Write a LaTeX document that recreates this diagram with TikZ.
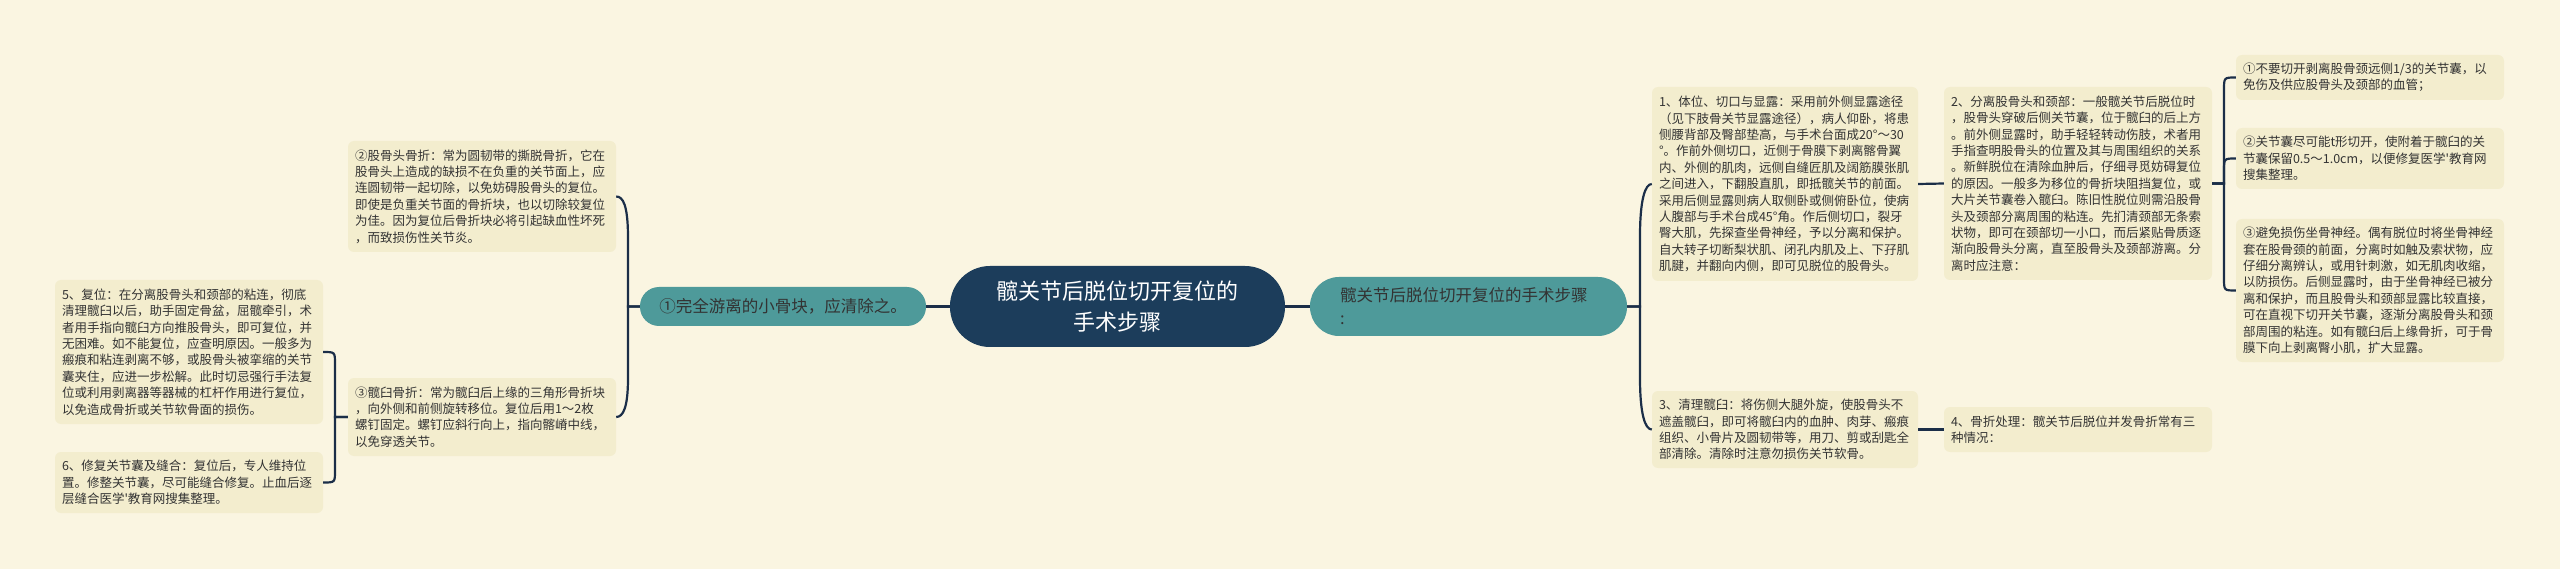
\documentclass[tikz,border=0pt]{standalone}
\usepackage{fontspec}
\newfontfamily\cjk{Noto Sans CJK SC}
\definecolor{bgc}{HTML}{FAF5E1}
\definecolor{boxc}{HTML}{F3EDCE}
\definecolor{navy}{HTML}{1C3D5B}
\definecolor{tealc}{HTML}{4E9A9A}
\definecolor{linec}{HTML}{1B2E48}
\definecolor{txt}{HTML}{333333}
\tikzset{
  leaf/.style={fill=boxc, rounded corners=6pt, inner xsep=7pt, inner ysep=0pt,
    text width=254pt, align=left, text=txt,
    font=\cjk\fontsize{12.5}{16.4}\selectfont},
  conn/.style={draw=linec, line width=2.2pt},
  rootnode/.style={fill=navy, rounded corners=40pt, minimum width=335pt, minimum height=81pt,
    inner sep=0pt, align=center, text=white, font=\cjk\fontsize{22}{31}\selectfont},
  subnode/.style={fill=tealc, inner sep=0pt, text=txt},
}
\begin{document}
\begin{tikzpicture}[x=1pt,y=-1pt]
\fill[bgc] (0,0) rectangle (2560,569);
\useasboundingbox (0,0) rectangle (2560,569);

% main nodes
\node[rootnode] (root) at (1117.5,306.5) {髋关节后脱位切开复位的\\手术步骤};
\node[subnode, rounded corners=19pt, minimum width=286pt, minimum height=39pt,
  font=\cjk\fontsize{16.5}{20}\selectfont] (n1) at (783,306.5) {①完全游离的小骨块，应清除之。};
\node[subnode, rounded corners=29pt, minimum width=317pt, minimum height=59pt,
  text width=257pt, align=left, font=\cjk\fontsize{16.5}{23}\selectfont] (rn) at (1468.5,306.5) {髋关节后脱位切开复位的手术步骤\\:};

% left side leaves
\node[leaf, minimum height=111pt] (b2) at (482,196.5) {②股骨头骨折：常为圆韧带的撕脱骨折，它在\\股骨头上造成的缺损不在负重的关节面上，应\\连圆韧带一起切除，以免妨碍股骨头的复位。\\即使是负重关节面的骨折块，也以切除较复位\\为佳。因为复位后骨折块必将引起缺血性坏死\\，而致损伤性关节炎。};
\node[leaf, minimum height=78pt] (b3) at (482,417) {③髋臼骨折：常为髋臼后上缘的三角形骨折块\\，向外侧和前侧旋转移位。复位后用1～2枚\\螺钉固定。螺钉应斜行向上，指向髂嵴中线，\\以免穿透关节。};
\node[leaf, minimum height=144pt] (b5) at (189,352) {5、复位：在分离股骨头和颈部的粘连，彻底\\清理髋臼以后，助手固定骨盆，屈髋牵引，术\\者用手指向髋臼方向推股骨头，即可复位，并\\无困难。如不能复位，应查明原因。一般多为\\瘢痕和粘连剥离不够，或股骨头被挛缩的关节\\囊夹住，应进一步松解。此时切忌强行手法复\\位或利用剥离器等器械的杠杆作用进行复位，\\以免造成骨折或关节软骨面的损伤。};
\node[leaf, minimum height=61pt] (b6) at (189,482.5) {6、修复关节囊及缝合：复位后，专人维持位\\置。修整关节囊，尽可能缝合修复。止血后逐\\层缝合医学'教育网搜集整理。};

% right side leaves
\node[leaf, text width=252pt, minimum height=194pt] (r1) at (1785,184) {1、体位、切口与显露：采用前外侧显露途径\\（见下肢骨关节显露途径），病人仰卧，将患\\侧腰背部及臀部垫高，与手术台面成20°～30\\°。作前外侧切口，近侧于骨膜下剥离髂骨翼\\内、外侧的肌肉，远侧自缝匠肌及阔筋膜张肌\\之间进入，下翻股直肌，即抵髋关节的前面。\\采用后侧显露则病人取侧卧或侧俯卧位，使病\\人腹部与手术台成45°角。作后侧切口，裂牙\\臀大肌，先探查坐骨神经，予以分离和保护。\\自大转子切断梨状肌、闭孔内肌及上、下孖肌\\肌腱，并翻向内侧，即可见脱位的股骨头。};
\node[leaf, minimum height=193pt] (r2) at (2078,183.5) {2、分离股骨头和颈部：一般髋关节后脱位时\\，股骨头穿破后侧关节囊，位于髋臼的后上方\\。前外侧显露时，助手轻轻转动伤肢，术者用\\手指查明股骨头的位置及其与周围组织的关系\\。新鲜脱位在清除血肿后，仔细寻觅妨碍复位\\的原因。一般多为移位的骨折块阻挡复位，或\\大片关节囊卷入髋臼。陈旧性脱位则需沿股骨\\头及颈部分离周围的粘连。先扪清颈部无条索\\状物，即可在颈部切一小口，而后紧贴骨质逐\\渐向股骨头分离，直至股骨头及颈部游离。分\\离时应注意：};
\node[leaf, text width=252pt, minimum height=77pt] (r3) at (1785,429.5) {3、清理髋臼：将伤侧大腿外旋，使股骨头不\\遮盖髋臼，即可将髋臼内的血肿、肉芽、瘢痕\\组织、小骨片及圆韧带等，用刀、剪或刮匙全\\部清除。清除时注意勿损伤关节软骨。};
\node[leaf, minimum height=45pt] (r4) at (2078,429.5) {4、骨折处理：髋关节后脱位并发骨折常有三\\种情况：};
\node[leaf, minimum height=45pt] (ra) at (2370,77.5) {①不要切开剥离股骨颈远侧1/3的关节囊，以\\免伤及供应股骨头及颈部的血管；};
\node[leaf, minimum height=61pt] (rb) at (2370,158.5) {②关节囊尽可能t形切开，使附着于髋臼的关\\节囊保留0.5～1.0cm，以便修复医学'教育网\\搜集整理。};
\node[leaf, minimum height=143pt] (rc) at (2370,290.5) {③避免损伤坐骨神经。偶有脱位时将坐骨神经\\套在股骨颈的前面，分离时如触及索状物，应\\仔细分离辨认，或用针刺激，如无肌肉收缩，\\以防损伤。后侧显露时，由于坐骨神经已被分\\离和保护，而且股骨头和颈部显露比较直接，\\可在直视下切开关节囊，逐渐分离股骨头和颈\\部周围的粘连。如有髋臼后上缘骨折，可于骨\\膜下向上剥离臀小肌，扩大显露。};

% connectors
\draw[conn] (root.west) -- (n1.east);
\draw[conn] (root.east) -- (rn.west);
\draw[conn] (n1.west) -- (628,306.5) -- (628,238) .. controls (628,205) and (623,196.5) .. (b2.east);
\draw[conn] (n1.west) -- (628,306.5) -- (628,378) .. controls (628,408) and (623,417) .. (b3.east);
\draw[conn] (b3.west) -- (335,417) -- (335,364) .. controls (335,352) .. (b5.east);
\draw[conn] (b3.west) -- (335,417) -- (335,470.5) .. controls (335,482.5) .. (b6.east);
\draw[conn] (rn.east) -- (1640,306.5) -- (1640,236) .. controls (1640,200) and (1645,184) .. (r1.west);
\draw[conn] (rn.east) -- (1640,306.5) -- (1640,378) .. controls (1640,414) and (1645,429.5) .. (r3.west);
\draw[conn] (r1.east) -- (r2.west);
\draw[conn] (r3.east) -- (r4.west);
\draw[conn] (r2.east) -- (2224,183.5) -- (2224,89.5) .. controls (2224,77.5) .. (ra.west);
\draw[conn] (r2.east) -- (2224,183.5) -- (2224,170.5) .. controls (2224,158.5) .. (rb.west);
\draw[conn] (r2.east) -- (2224,183.5) -- (2224,278.5) .. controls (2224,290.5) .. (rc.west);
\end{tikzpicture}
\end{document}
